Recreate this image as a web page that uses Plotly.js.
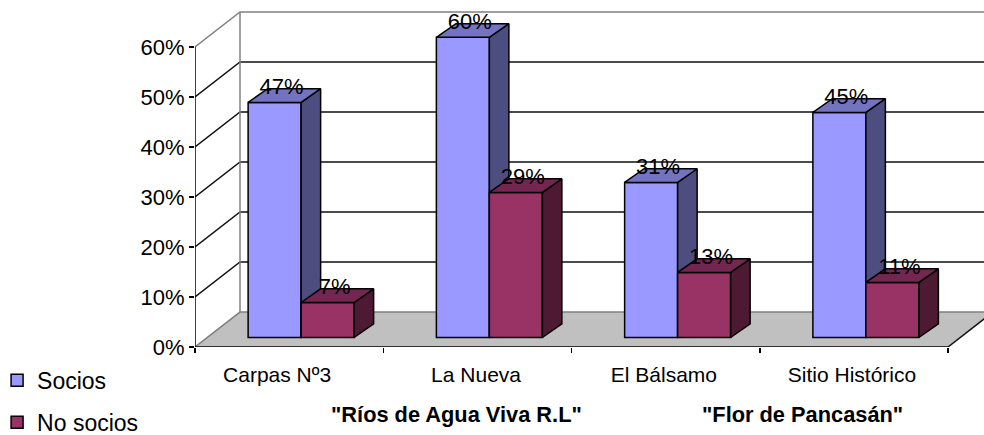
<!DOCTYPE html>
<html>
<head>
<meta charset="utf-8">
<script src="https://cdn.plot.ly/plotly-3.0.1.min.js"></script>
<style>html,body{margin:0;padding:0;background:#fff;overflow:hidden}</style>
</head>
<body>
<div id="chart" style="width:984px;height:435px"></div>
<script>
var categories = ['Carpas Nº3', 'La Nueva', 'El Bálsamo', 'Sitio Histórico'];
var categoryLabelPositions = [0.436, 1.493, 2.491, 3.49];
var socios = [47, 60, 31, 45];
var noSocios = [7, 29, 13, 11];
var percentTicks = [0, 10, 20, 30, 40, 50, 60];

// Projection of the 3-D box, in axis units (x: categories, y: percent)
var PX_PER_CAT = 188.25, PX_PER_PCT = 5.01;
var WALL_DX = 45 / PX_PER_CAT, WALL_DY = 35 / PX_PER_PCT;
var BAR_W = 53 / PX_PER_CAT;
var BAR_SHIFT_X = 12 / PX_PER_CAT, BAR_BASE = 9.5 / PX_PER_PCT;
var BAR_DX = 19.5 / PX_PER_CAT, BAR_DY = 13.7 / PX_PER_PCT;
var NCAT = categories.length, TOP = 60;
var X_MAX = 789 / PX_PER_CAT, Y_MAX = 347.5 / PX_PER_PCT;

var FONT = 'Liberation Sans, Arial, sans-serif';
var traces = [];

function line(xs, ys, color, width, extra, axes) {
  var t = {type: 'scatter', mode: 'lines', x: xs, y: ys,
    line: {color: color, width: width}, hoverinfo: 'skip', showlegend: false};
  for (var k in (extra || {})) t[k] = extra[k];
  if (axes) { t.xaxis = axes[0]; t.yaxis = axes[1]; }
  traces.push(t);
}
function poly(xs, ys, fillcolor, lineColor, width, axes) {
  line(xs, ys, lineColor, width, {fill: 'toself', fillcolor: fillcolor}, axes);
}

// floor
poly([0, NCAT, NCAT + WALL_DX, WALL_DX, 0], [0, 0, WALL_DY, WALL_DY, 0], '#c0c0c0', 'rgba(0,0,0,0)', 0);
// black gridlines on side and back walls
var gx = [], gy = [];
percentTicks.forEach(function (v) {
  if (v === 0 || v === TOP) return;
  gx.push(0, WALL_DX, NCAT + WALL_DX, null);
  gy.push(v, v + WALL_DY, v + WALL_DY, null);
});
line(gx, gy, '#111111', 1.5);
// grey frame
line([0, WALL_DX, NCAT + WALL_DX], [TOP, TOP + WALL_DY, TOP + WALL_DY], '#808080', 1.5);
line([WALL_DX, WALL_DX], [WALL_DY, TOP + WALL_DY], '#808080', 1.5);
line([0, WALL_DX, NCAT + WALL_DX], [0, WALL_DY, WALL_DY], '#808080', 1.5);
line([NCAT, NCAT + WALL_DX], [0, WALL_DY], '#111111', 1.5);

function centerX(i) { return i + 0.5 + BAR_SHIFT_X; }

function drawBar3D(values, sign, sideColor, topColor, axes) {
  values.forEach(function (v, i) {
    var l = centerX(i) + (sign < 0 ? -BAR_W : 0), r = l + BAR_W, z = BAR_BASE, t = BAR_BASE + v;
    poly([r, r + BAR_DX, r + BAR_DX, r, r], [z, z + BAR_DY, t + BAR_DY, t, z], sideColor, '#000', 1.5, axes);
    poly([l, r, r + BAR_DX, l + BAR_DX, l], [t, t, t + BAR_DY, t + BAR_DY, t], topColor, '#000', 1.5, axes);
  });
}
function barTrace(name, values, sign, color, axes) {
  return {type: 'bar', name: name, legendgroup: name, x: categories.map(function (_, i) { return centerX(i) + sign * BAR_W / 2; }),
    y: values, base: values.map(function () { return BAR_BASE; }), width: BAR_W,
    marker: {color: color, line: {color: '#000', width: 1.5}}, hoverinfo: 'skip',
    xaxis: axes[0], yaxis: axes[1]};
}

// Middle layer: Socios
traces.push(barTrace('Socios', socios, -1, '#9999ff', ['x2', 'y2']));
drawBar3D(socios, -1, '#4d4d80', '#7373bf', ['x2', 'y2']);

// Upper layer: No socios, drawn over the blue side faces
traces.push(barTrace('No socios', noSocios, 1, '#993366', ['x3', 'y3']));
drawBar3D(noSocios, 1, '#4d1933', '#732650', ['x3', 'y3']);

// front axes
line([0, 0], [0, TOP], '#000', 1.5, {cliponaxis: false}, ['x3', 'y3']);
line([0, NCAT], [0, 0], '#000', 1.5, {cliponaxis: false}, ['x3', 'y3']);

// value labels
function labelTrace(values, sign) {
  return {type: 'scatter', mode: 'text', cliponaxis: false, showlegend: false, hoverinfo: 'skip',
    x: values.map(function (_, i) { return centerX(i) + sign * BAR_W / 2 + 7 / PX_PER_CAT; }),
    y: values.map(function (v) { return BAR_BASE + v + BAR_DY; }),
    text: values.map(function (v) { return v + '%'; }),
    textposition: 'middle center', textfont: {family: FONT, size: 22, color: '#000'},
    xaxis: 'x3', yaxis: 'y3'};
}
traces.push(labelTrace(socios, -1));
traces.push(labelTrace(noSocios, 1));

function hiddenX(anchor) {
  return {range: [0, X_MAX], overlaying: 'x', anchor: anchor, showgrid: false, zeroline: false, showline: false,
    showticklabels: false, ticks: ''};
}
function hiddenY(anchor) {
  return {range: [0, Y_MAX], overlaying: 'y', anchor: anchor, showgrid: false, zeroline: false, showline: false,
    showticklabels: false, ticks: ''};
}
var x3 = hiddenX('y3');
x3.tickmode = 'array'; x3.tickvals = [0, 1, 2, 3, 4]; x3.ticks = 'outside'; x3.ticklen = 5; x3.tickwidth = 1.5; x3.tickcolor = '#000';

var layout = {
  width: 984, height: 435, autosize: false,
  margin: {l: 195, r: 0, t: 0, b: 87.5, pad: 0, autoexpand: false},
  paper_bgcolor: '#fff', plot_bgcolor: 'rgba(0,0,0,0)',
  font: {family: FONT, color: '#000', size: 20},
  showlegend: true,
  legend: {x: -0.2445, xanchor: 'left', y: -0.034, yanchor: 'top', traceorder: 'grouped', indentation: -5,
    font: {family: FONT, size: 23, color: '#000'}, bgcolor: 'rgba(0,0,0,0)', tracegroupgap: 9},
  xaxis: {range: [0, X_MAX], showgrid: false, zeroline: false, showline: false,
    tickmode: 'array', tickvals: categoryLabelPositions, ticktext: categories,
    ticks: 'outside', ticklen: 9, tickcolor: 'rgba(0,0,0,0)', tickfont: {family: FONT, size: 21}},
  xaxis2: hiddenX('y2'),
  xaxis3: x3,
  yaxis: {range: [0, Y_MAX], showgrid: false, zeroline: false, showline: false,
    tickmode: 'array', tickvals: percentTicks, ticktext: percentTicks.map(function (v) { return v + '%'; }),
    ticks: 'outside', ticklen: 5, tickwidth: 1.5, tickcolor: '#000', tickfont: {family: FONT, size: 22}},
  yaxis2: hiddenY('x2'),
  yaxis3: hiddenY('x3'),
  annotations: [
    {text: '<b>"Ríos de Agua Viva R.L"</b>', xref: 'paper', yref: 'paper', x: (456 - 195) / 789, y: -68 / 347.5,
      xanchor: 'center', yanchor: 'middle', showarrow: false, font: {family: FONT, size: 21.8}},
    {text: '<b>"Flor de Pancasán"</b>', xref: 'paper', yref: 'paper', x: (802 - 195) / 789, y: -68 / 347.5,
      xanchor: 'center', yanchor: 'middle', showarrow: false, font: {family: FONT, size: 21.8}}
  ]
};
Plotly.newPlot('chart', traces, layout, {displayModeBar: false, staticPlot: true});
</script>
</body>
</html>
